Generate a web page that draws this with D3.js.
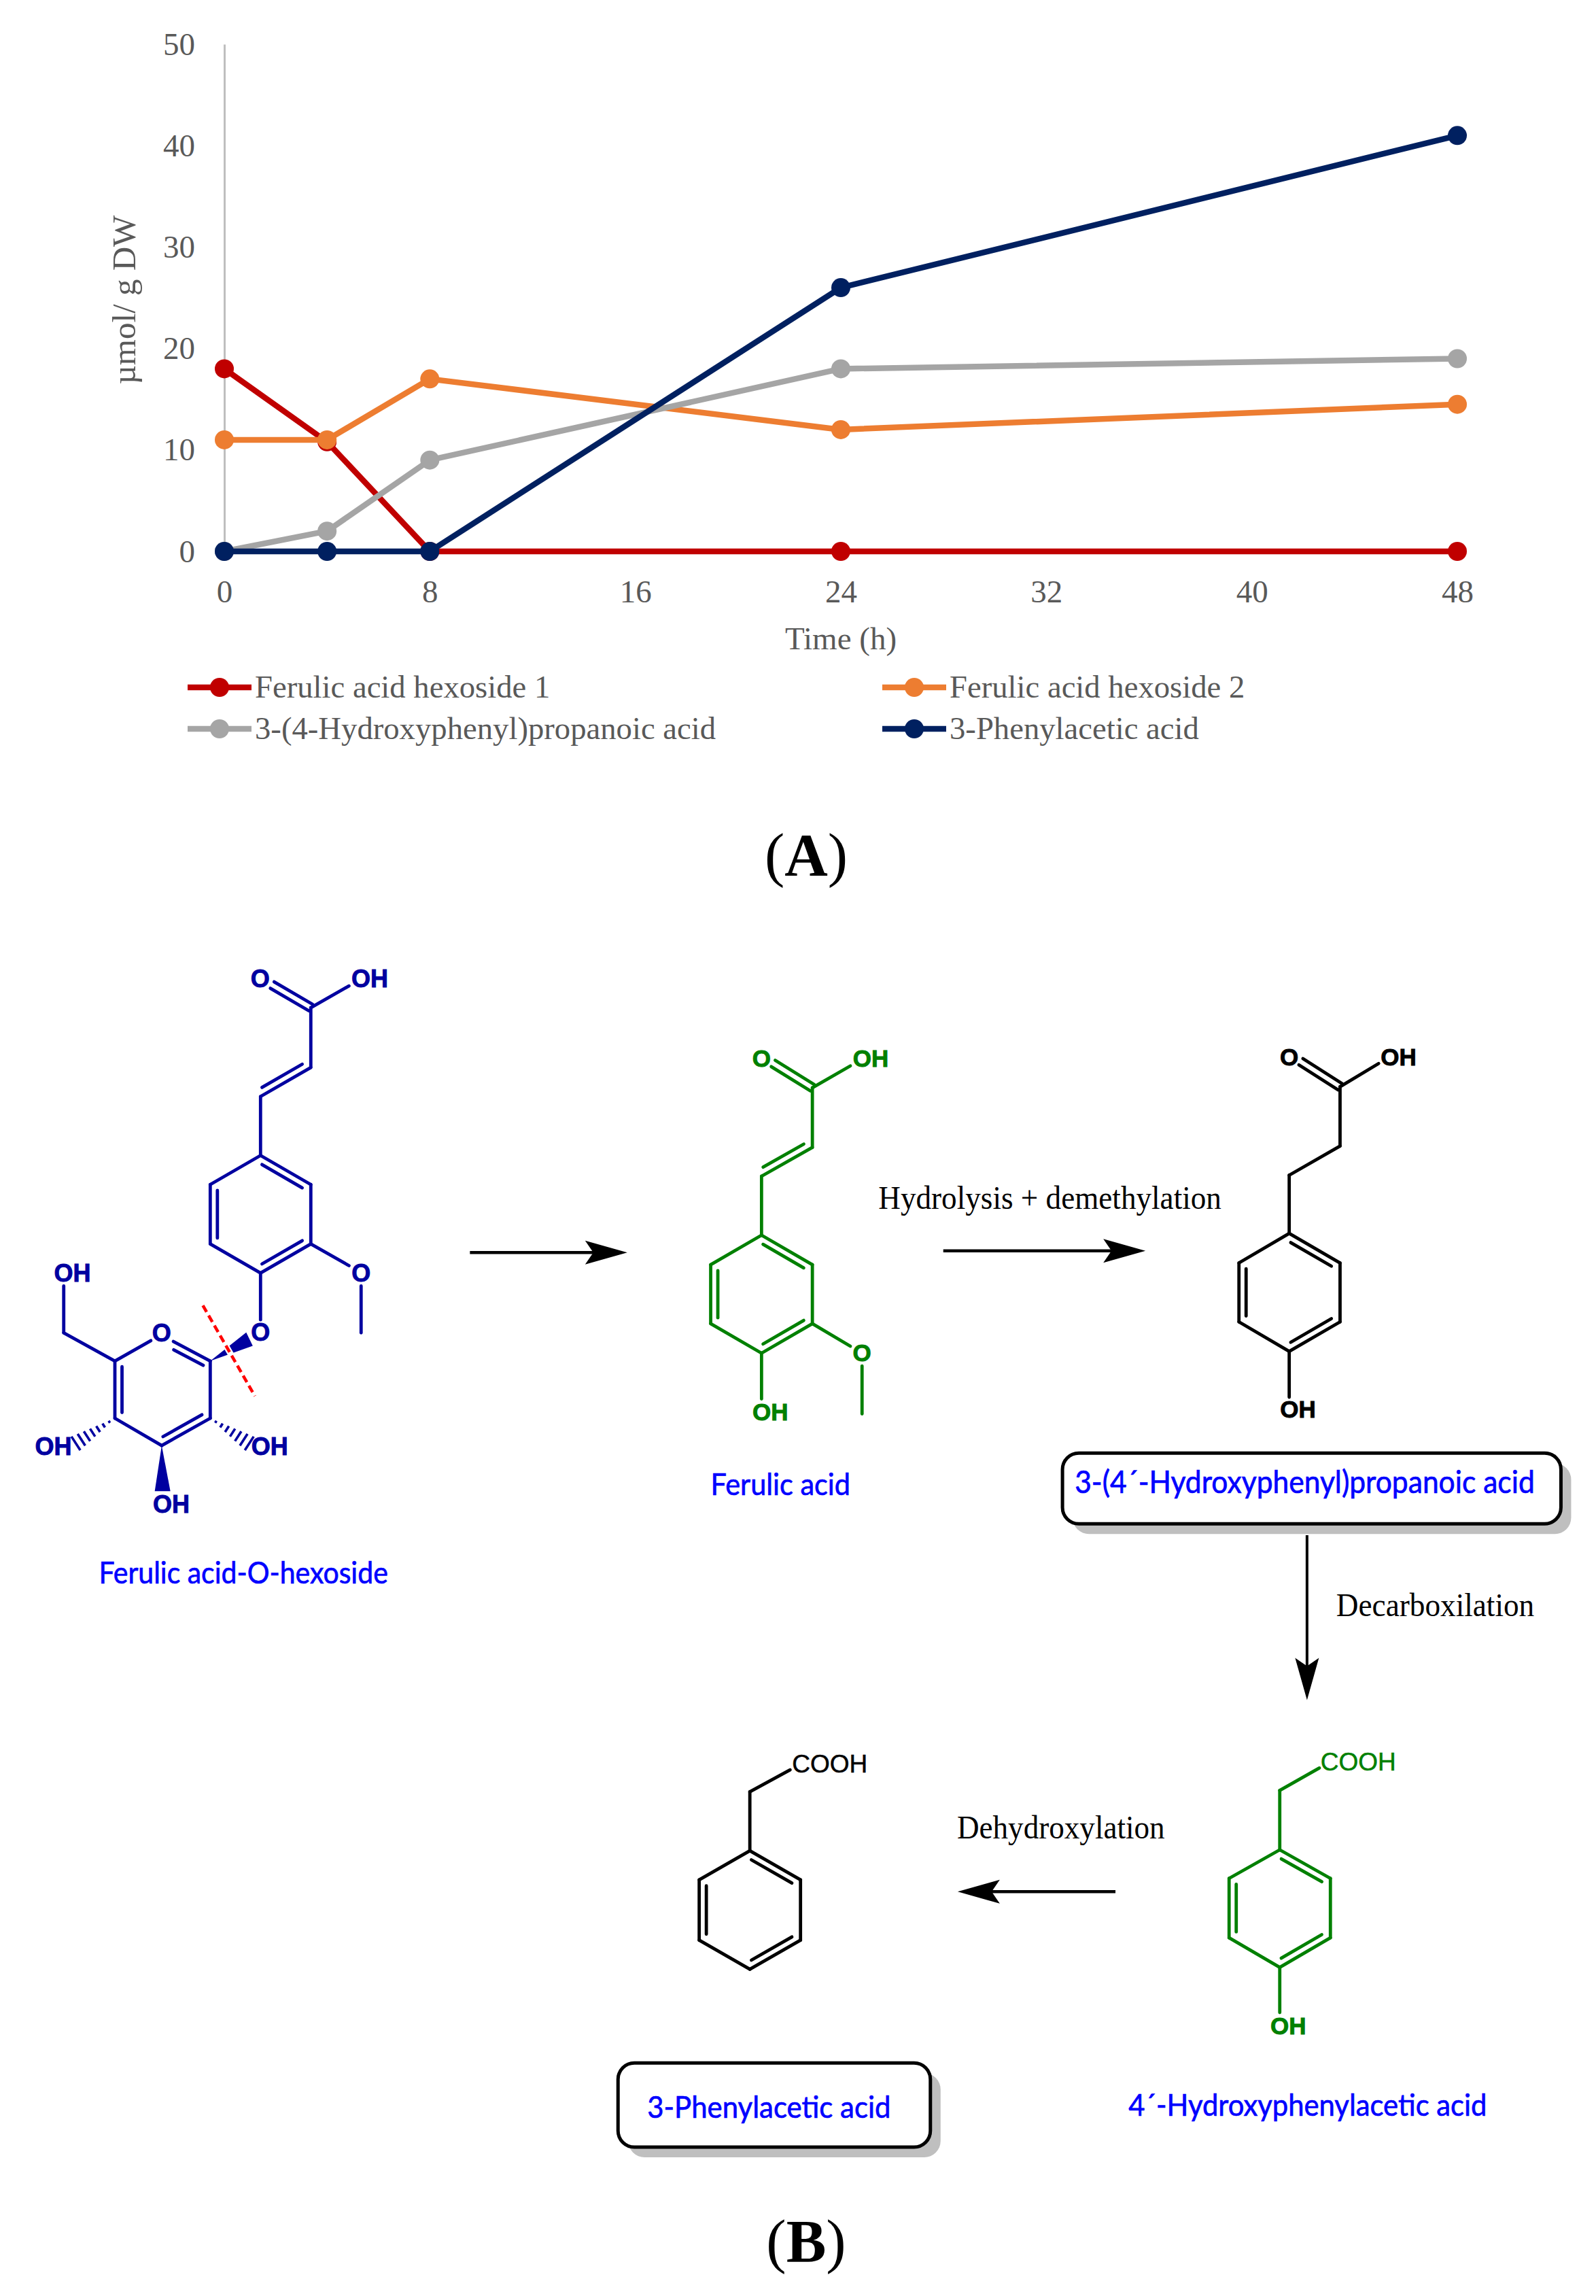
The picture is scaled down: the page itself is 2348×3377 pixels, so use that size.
<!DOCTYPE html>
<html><head><meta charset="utf-8">
<script src="https://cdnjs.cloudflare.com/ajax/libs/d3/7.8.5/d3.min.js"></script>
<style>html,body{margin:0;padding:0;background:#fff}svg{display:block}</style>
</head><body><svg id="c" width="2348" height="3377"></svg>
<script>
// ---------- chart data ----------
const times = [0, 4, 8, 24, 48];
const xTicks = [0, 8, 16, 24, 32, 40, 48];
const yTicks = [0, 10, 20, 30, 40, 50];
const seriesNames = ["Ferulic acid hexoside 1", "Ferulic acid hexoside 2", "3-(4-Hydroxyphenyl)propanoic acid", "3-Phenylacetic acid"];
const hexoside1 = [18, 10.8, 0, 0, 0];
const hexoside2 = [11, 11, 17, 12, 14.5];
const propanoic = [0, 2, 9, 18, 19];
const phenylacetic = [0, 0, 0, 26, 41];
const seriesValues = [hexoside1, hexoside2, propanoic, phenylacetic];
const seriesColors = ["#C00000", "#ED7D31", "#A5A5A5", "#002060"];

const svg = d3.select("#c");
const SERIF = "'Liberation Serif','Times New Roman',serif";
const SANS = "'Liberation Sans',Arial,sans-serif";
const LABEL = "Lato,'Noto Sans',sans-serif";

const x = d3.scaleLinear().domain([0, 48]).range([330, 2144]);
const y = d3.scaleLinear().domain([0, 50]).range([811, 65]);

// axes
const yAxis = svg.append("g").attr("transform", `translate(${x(0)},0)`)
  .call(d3.axisLeft(y).tickValues(yTicks).tickSize(0).tickPadding(43));
yAxis.select(".domain").attr("stroke", "#BFBFBF").attr("stroke-width", 3);
const xAxis = svg.append("g").attr("transform", `translate(0,${y(0)})`)
  .call(d3.axisBottom(x).tickValues(xTicks).tickSize(0).tickPadding(42));
xAxis.select(".domain").remove();
svg.selectAll("g .tick text").attr("font-family", SERIF).attr("font-size", 47).attr("fill", "#595959");

svg.append("text").attr("x", x(24)).attr("y", 955).attr("text-anchor", "middle")
  .attr("font-family", SERIF).attr("font-size", 47).attr("fill", "#595959").text("Time (h)");
svg.append("text").attr("transform", "translate(199,441) rotate(-90)").attr("text-anchor", "middle")
  .attr("font-family", SERIF).attr("font-size", 49).attr("fill", "#595959").text("µmol/ g DW");

// series
const line = d3.line().x((d, i) => x(times[i])).y(d => y(d));
const sg = svg.selectAll("g.series").data(seriesValues).join("g").attr("class", "series");
sg.append("path").attr("d", d => line(d)).attr("fill", "none").attr("stroke-width", 8.5)
  .attr("stroke", (d, i) => seriesColors[i]).attr("stroke-linejoin", "round");
sg.each(function (vals, k) {
  d3.select(this).selectAll("circle").data(vals).join("circle")
    .attr("cx", (d, i) => x(times[i])).attr("cy", d => y(d)).attr("r", 14).attr("fill", seriesColors[k]);
});

// legend
const legX = [276, 1298], legY = [1011, 1072];
const lg = svg.selectAll("g.leg").data(seriesNames).join("g").attr("class", "leg")
  .attr("transform", (d, i) => `translate(${legX[i % 2]},${legY[i >> 1]})`);
lg.append("line").attr("x1", 0).attr("x2", 94).attr("stroke-width", 8.5).attr("stroke", (d, i) => seriesColors[i]);
lg.append("circle").attr("cx", 47).attr("r", 14).attr("fill", (d, i) => seriesColors[i]);
lg.append("text").attr("x", 99).attr("dy", ".33em").attr("font-family", SERIF).attr("font-size", 46.7)
  .attr("fill", "#595959").text(d => d);

// ---------- panel letters ----------
const panelLetters = [["A", 1186, 1287], ["B", 1186, 3326]];
panelLetters.forEach(([s, px, py]) => {
  const t = svg.append("text").attr("x", px).attr("y", py).attr("text-anchor", "middle")
    .attr("font-family", SERIF).attr("font-size", 88).attr("fill", "#000");
  t.append("tspan").text("(");
  t.append("tspan").attr("font-weight", "bold").text(s);
  t.append("tspan").text(")");
});

// ---------- scheme ----------
const frame = (x0, y0, w, h) => ({
  x: d3.scaleLinear().domain([0, 1568]).range([x0, x0 + w]),
  y: d3.scaleLinear().domain([0, 1568]).range([y0, y0 + h])
});
const F2 = frame(0, 1380, 1000, 1000), F3 = frame(1000, 1480, 1348, 800), F4 = frame(850, 2280, 1498, 1097);

function bonds(f, color, list, w = 4.8) {
  const g = svg.append("g").attr("stroke", color).attr("stroke-width", w).attr("stroke-linecap", "round").attr("fill", "none");
  const seg = (a, b, c, d) => g.append("line").attr("x1", a).attr("y1", b).attr("x2", c).attr("y2", d);
  list.forEach(([x1, y1, x2, y2, side]) => {
    const a = f.x(x1), b = f.y(y1), c = f.x(x2), d = f.y(y2);
    const L = Math.hypot(c - a, d - b), nx = -(d - b) / L, ny = (c - a) / L;
    if (side === 2) {
      seg(a + nx * 5.5, b + ny * 5.5, c + nx * 5.5, d + ny * 5.5);
      seg(a - nx * 5.5, b - ny * 5.5, c - nx * 5.5, d - ny * 5.5);
    } else {
      seg(a, b, c, d);
      if (side) {
        const o = 10.5 * side, t = 0.1, ux = (c - a) * t, uy = (d - b) * t;
        seg(a + nx * o + ux, b + ny * o + uy, c + nx * o - ux, d + ny * o - uy);
      }
    }
  });
}
function labels(f, color, list, size, weight = "bold", thick = 0.9) {
  svg.append("g").selectAll("text").data(list).join("text")
    .attr("x", d => f.x(d[1])).attr("y", d => f.y(d[2])).attr("dy", ".36em").attr("text-anchor", "middle")
    .attr("font-family", SANS).attr("font-weight", weight).attr("font-size", size).attr("fill", color)
    .attr("stroke", color).attr("stroke-width", thick).text(d => d[0]);
}
function poly(f, color, pts) {
  svg.append("polygon").attr("points", pts.map(p => [f.x(p[0]), f.y(p[1])].join(",")).join(" ")).attr("fill", color);
}
function hashes(f, color, x1, y1, x2, y2, n, hw) {
  const a = f.x(x1), b = f.y(y1), c = f.x(x2), d = f.y(y2);
  const L = Math.hypot(c - a, d - b), nx = -(d - b) / L, ny = (c - a) / L;
  d3.range(n).forEach(i => {
    const t = (i + 1) / n, px = a + (c - a) * t, py = b + (d - b) * t, h = hw * t;
    svg.append("line").attr("x1", px + nx * h).attr("y1", py + ny * h).attr("x2", px - nx * h).attr("y2", py - ny * h)
      .attr("stroke", color).attr("stroke-width", 3.6);
  });
}
function arrow(x1, y1, x2, y2, w = 4.5) {
  const L = Math.hypot(x2 - x1, y2 - y1), ux = (x2 - x1) / L, uy = (y2 - y1) / L, nx = -uy, ny = ux;
  svg.append("line").attr("x1", x1).attr("y1", y1).attr("x2", x2 - ux * 45).attr("y2", y2 - uy * 45)
    .attr("stroke", "#000").attr("stroke-width", w);
  const P = (b, s) => [x2 - ux * b + nx * s, y2 - uy * b + ny * s].join(",");
  svg.append("polygon").attr("points", [P(0, 0), P(62, 17.5), P(50, 0), P(62, -17.5)].join(" ")).attr("fill", "#000");
}
function fitted(f, color, family, str, xa, xb, yc, tall = 1.08, thick = 0) {
  const t = svg.append("text").attr("font-family", family).attr("font-size", 40)
    .attr("fill", color).attr("x", f.x(xa)).attr("y", f.y(yc)).attr("dy", ".34em").text(str);
  const target = f.x(xb) - f.x(xa);
  t.attr("font-size", 40 * target / t.node().getComputedTextLength() * tall)
    .attr("textLength", target).attr("lengthAdjust", "spacingAndGlyphs");
  if (thick) t.attr("stroke", color).attr("stroke-width", thick);
}
function box(f, x1, y1, x2, y2, sx, sy) {
  const X = f.x(x1), Y = f.y(y1), W = f.x(x2) - X, H = f.y(y2) - Y;
  svg.append("rect").attr("x", X + sx).attr("y", Y + sy).attr("width", W).attr("height", H).attr("rx", 24)
    .attr("fill", "#BFBFBF");
  svg.append("rect").attr("x", X).attr("y", Y).attr("width", W).attr("height", H).attr("rx", 24)
    .attr("fill", "#fff").attr("stroke", "#000").attr("stroke-width", 5);
}

// Ferulic acid-O-hexoside
const NAVYMOL = "#0000A0";
bonds(F2, NAVYMOL, [
  [717,160,628,108,2],[717,160,805,110,0],[717,160,717,298,0],[717,298,601,365,1],[601,365,601,501,0],
  [601,501,717,568,1],[717,568,717,705,0],[717,705,601,772,1],[601,772,485,705,0],[485,705,485,568,1],[485,568,601,501,0],
  [717,705,805,755,0],[833,802,833,910,0],[601,772,601,880,0],
  [400,930,485,975,1],[485,975,485,1107,0],[485,1107,373,1170,1],[373,1170,265,1107,0],[265,1107,265,975,1],
  [265,975,348,928,0],[265,975,147,910,0],[147,910,147,802,0]
]);
labels(F2, NAVYMOL, [["O",600,93],["OH",853,93],["O",833,772],["O",601,908],["O",373,910],["OH",167,772],["OH",123,1172],["OH",622,1172],["OH",395,1305]], 36);
poly(F2, NAVYMOL, [[485,975],[568,909],[583,940]]);
poly(F2, NAVYMOL, [[373,1170],[357,1275],[393,1275]]);
hashes(F2, NAVYMOL, 265, 1107, 175, 1165, 7, 12);
hashes(F2, NAVYMOL, 485, 1107, 575, 1165, 7, 12);
svg.append("line").attr("x1", F2.x(468)).attr("y1", F2.y(847)).attr("x2", F2.x(588)).attr("y2", F2.y(1056))
  .attr("stroke", "#fff").attr("stroke-width", 9);
svg.append("line").attr("x1", F2.x(468)).attr("y1", F2.y(847)).attr("x2", F2.x(588)).attr("y2", F2.y(1056))
  .attr("stroke", "#F00").attr("stroke-width", 4.5).attr("stroke-dasharray", "11,6");
fitted(F2, "#0000FF", LABEL, "Ferulic acid-O-hexoside", 228, 895, 1464, 1.08, 0.7);
arrow(F2.x(1084), F2.y(725), F2.x(1447), F2.y(725));

// Ferulic acid
const GREEN = "#008000";
bonds(F3, GREEN, [
  [227,235,160,165,2],[227,235,292,172,0],[227,235,227,407,0],[227,407,140,490,1],[140,490,140,660,0],
  [140,660,227,745,1],[227,745,227,915,0],[227,915,140,1000,1],[140,1000,53,915,0],[53,915,53,745,1],[53,745,140,660,0],
  [227,915,292,980,0],[312,1037,312,1175,0],[140,1000,140,1132,0]
]);
labels(F3, GREEN, [["O",140,150],["OH",327,150],["O",312,998],["OH",155,1168]], 35);
fitted(F3, "#0000FF", LABEL, "Ferulic acid", 53, 292, 1380, 1.08, 0.7);

// Propanoic acid
bonds(F3, "#000", [
  [1130,232,1063,160,2],[1130,232,1196,165,0],[1130,232,1130,403,0],[1130,403,1043,487,0],[1043,487,1043,655,0],
  [1043,655,1130,740,1],[1130,740,1130,910,0],[1130,910,1043,995,1],[1043,995,957,910,0],[957,910,957,740,1],[957,740,1043,655,0],
  [1043,995,1043,1127,0]
]);
labels(F3, "#000", [["O",1043,145],["OH",1230,145],["OH",1058,1162]], 35);
arrow(F3.x(451), F3.y(705), F3.x(797), F3.y(705));
fitted(F3, "#000", SERIF, "Hydrolysis + demethylation", 340, 927, 552);
box(F3, 655, 1288, 1508, 1492, 15, 15);
fitted(F3, "#0000FF", LABEL, "3-(4´-Hydroxyphenyl)propanoic acid", 676, 1463, 1372, 1.08, 0.7);

// Step down
arrow(F4.x(1123), F3.y(1525), F4.x(1123), F4.y(315), 4);
fitted(F4, "#000", SERIF, "Decarboxilation", 1168, 1473, 115);

// 4'-Hydroxyphenylacetic acid
bonds(F4, GREEN, [
  [1142,458,1081,505,0],[1081,505,1081,630,0],
  [1081,630,1159,690,1],[1159,690,1159,815,0],[1159,815,1081,877,1],[1081,877,1003,815,0],[1003,815,1003,690,1],[1003,690,1081,630,0],
  [1081,877,1081,972,0]
]);
labels(F4, GREEN, [["COOH",1202,444]], 37, "normal", 0.5);
labels(F4, GREEN, [["OH",1094,1000]], 35);
fitted(F4, "#0000FF", LABEL, "4´-Hydroxyphenylacetic acid", 848, 1400, 1168, 1.08, 0.7);

// 3-Phenylacetic acid
bonds(F4, "#000", [
  [327,462,265,508,0],[265,508,265,632,0],
  [265,632,343,693,1],[343,693,343,820,0],[343,820,265,881,1],[265,881,187,820,0],[187,820,187,693,1],[187,693,265,632,0]
]);
labels(F4, "#000", [["COOH",388,448]], 37, "normal", 0.5);
arrow(F4.x(828), F4.y(718), F4.x(585), F4.y(718));
fitted(F4, "#000", SERIF, "Dehydroxylation", 584, 904, 582);
box(F4, 62, 1078, 543, 1255, 15, 15);
fitted(F4, "#0000FF", LABEL, "3-Phenylacetic acid", 107, 482, 1172, 1.08, 0.7);
</script></body></html>
